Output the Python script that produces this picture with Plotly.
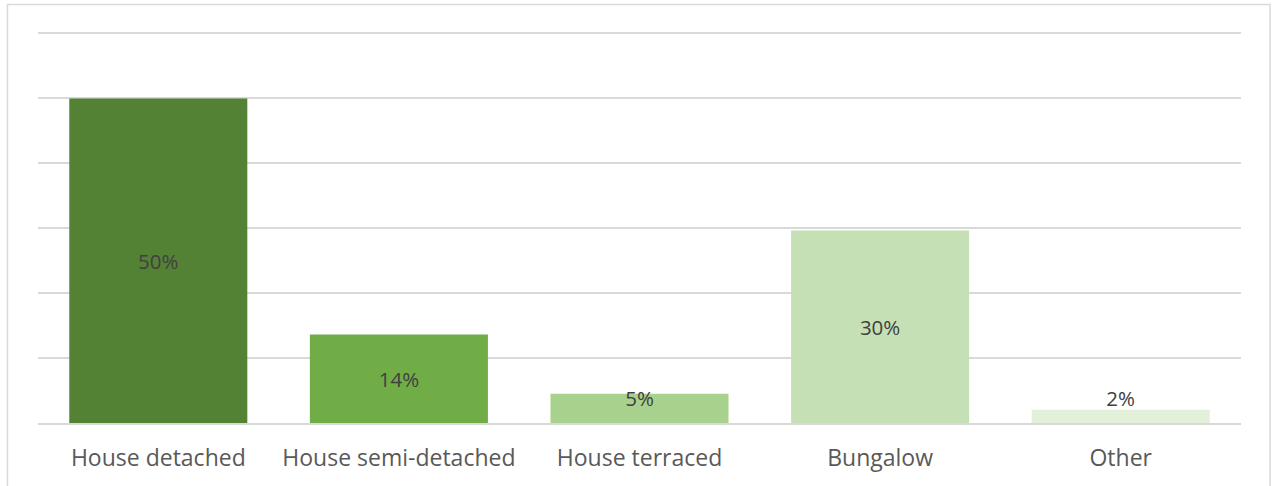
import plotly.graph_objects as go

# property types and share of respondents (%)
categories = ["House detached", "House semi-detached", "House terraced", "Bungalow", "Other"]
shares = [49.9, 13.6, 4.5, 29.6, 2.05]
labels = ["50%", "14%", "5%", "30%", "2%"]
colors = ["#548235", "#70AD47", "#A9D18E", "#C5E0B4", "#E2F0D9"]

W, H = 1272, 486
ml, mr, mt, mb = 38, 31, 31, 63

fig = go.Figure()

fig.add_trace(go.Bar(
    x=categories,
    y=shares,
    marker_color=colors,
    marker_line_width=0,
    hoverinfo="skip",
))

# data labels, centred in the bar but kept clear of the axis for short bars
label_y = [max(v / 2, 3.8) - 0.45 for v in shares]
fig.add_trace(go.Scatter(
    x=categories,
    y=label_y,
    mode="text",
    text=labels,
    textfont=dict(family="Open Sans", size=20.5, color="#404040"),
    hoverinfo="skip",
))

# light chart border like the source
pw = W - ml - mr
ph = H - mt - mb
fig.add_shape(
    type="rect", xref="paper", yref="paper",
    x0=(7.5 - ml) / pw, x1=(1270 - ml) / pw,
    y0=-(mb + 20) / ph, y1=(H - 4.5 - mb) / ph,
    line=dict(color="#D9D9D9", width=1.5), fillcolor="rgba(0,0,0,0)", layer="below",
)

fig.update_layout(
    width=W, height=H,
    margin=dict(l=ml, r=mr, t=mt, b=mb),
    paper_bgcolor="white", plot_bgcolor="white",
    showlegend=False,
    bargap=0.26,
    font=dict(family="Open Sans", color="#595959"),
)
fig.update_xaxes(
    showgrid=False, showline=True, linecolor="#D9D9D9", linewidth=1.5,
    ticks="", tickfont=dict(size=23, color="#595959"), ticklabelstandoff=14,
)
fig.update_yaxes(
    range=[0, 60.3], dtick=10, showgrid=True, gridcolor="#D9D9D9", gridwidth=1.5,
    showticklabels=False, zeroline=False, showline=False,
)

fig.write_html("out.html", config={"displayModeBar": False},
               post_script="document.body.style.margin='0';")
